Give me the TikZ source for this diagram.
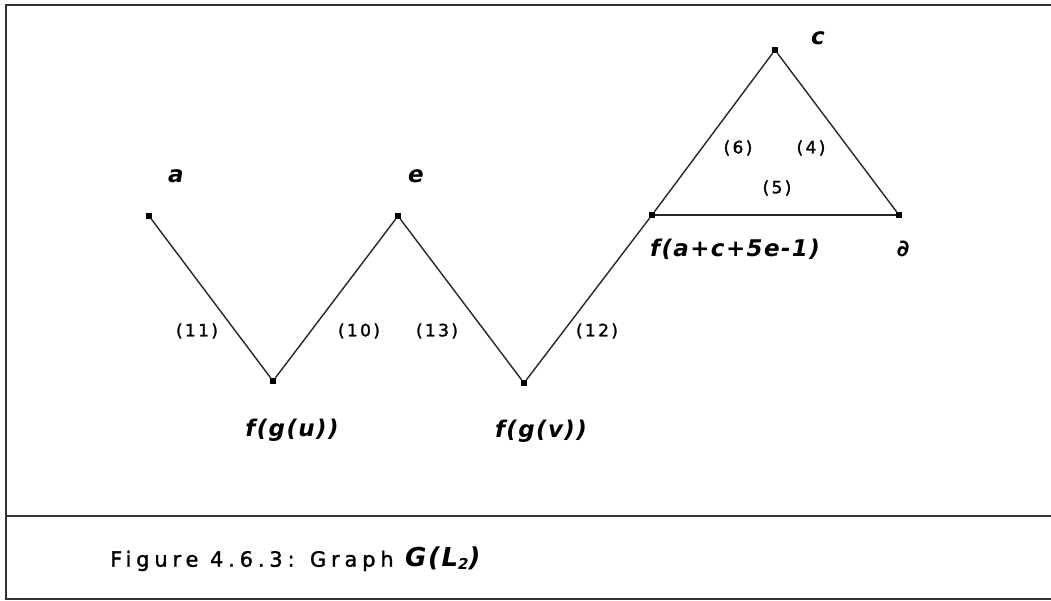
\documentclass[tikz,border=0pt]{standalone}
\usepackage{fontspec}
\newfontfamily\lab[LetterSpace=14,FakeBold=1.6]{DejaVu Sans}
\newfontfamily\capfont[LetterSpace=23,FakeBold=1.4]{DejaVu Sans}
\newfontfamily\scr[LetterSpace=6]{DejaVu Sans}
\begin{document}
\begin{tikzpicture}[x=1pt,y=-1pt,
  vtx/.style={fill=black,draw=none,minimum size=6pt,inner sep=0pt,rectangle},
  edge/.style={line width=1.4pt,black!85},
  elab/.style={font=\lab\fontsize{17}{17}\selectfont,inner sep=0pt},
  nlab/.style={font=\scr\bfseries\itshape\fontsize{23}{23}\selectfont,inner sep=0pt},
  frame/.style={line width=1.5pt,black!80}]
\useasboundingbox (0,0) rectangle (1051,601);
% frame
\draw[frame] (1051,5) -- (6,5) -- (6,599) -- (1051,599);
\draw[frame] (6,516) -- (1051,516);
% vertices
\node[vtx] (a) at (149,216) {};
\node[vtx] (fgu) at (273,381) {};
\node[vtx] (e) at (398,216) {};
\node[vtx] (fgv) at (524,383) {};
\node[vtx] (f) at (652,215) {};
\node[vtx] (c) at (775,50) {};
\node[vtx] (d) at (899,215) {};
% edges
\draw[edge] (a) -- (fgu);
\draw[edge] (fgu) -- (e);
\draw[edge] (e) -- (fgv);
\draw[edge] (fgv) -- (f);
\draw[edge] (f) -- (c);
\draw[edge] (c) -- (d);
\draw[edge,line width=1.9pt] (f) -- (d);
% vertex labels
\node[nlab] (la) at (176,176) {a};
\node[nlab] (le) at (416,176) {e};
\node[nlab] (lc) at (818,38) {c};
\node[nlab] (ld) at (903,249) {∂};
\node[nlab] (lf) at (735,249) {f(a+c+5e-1)};
\node[nlab] (lfgu) at (292,430) {f(g(u))};
\node[nlab] (lfgv) at (541,431) {f(g(v))};
% edge labels
\node[elab] (l11) at (197,331) {(11)};
\node[elab] (l10) at (359,331) {(10)};
\node[elab] (l13) at (437,331) {(13)};
\node[elab] (l12) at (597,331) {(12)};
\node[elab] (l6) at (738,148) {(6)};
\node[elab] (l4) at (811,148) {(4)};
\node[elab] (l5) at (777,188) {(5)};
% caption
\node[anchor=west,inner sep=0pt,font=\capfont\fontsize{21}{21}\selectfont] (cap) at (110,559) {Figure 4.6.3: Graph {\scr\bfseries\itshape\fontsize{26}{26}\selectfont G(L\raisebox{-3pt}{\fontsize{15}{15}\selectfont 2})}};
\end{tikzpicture}
\end{document}
